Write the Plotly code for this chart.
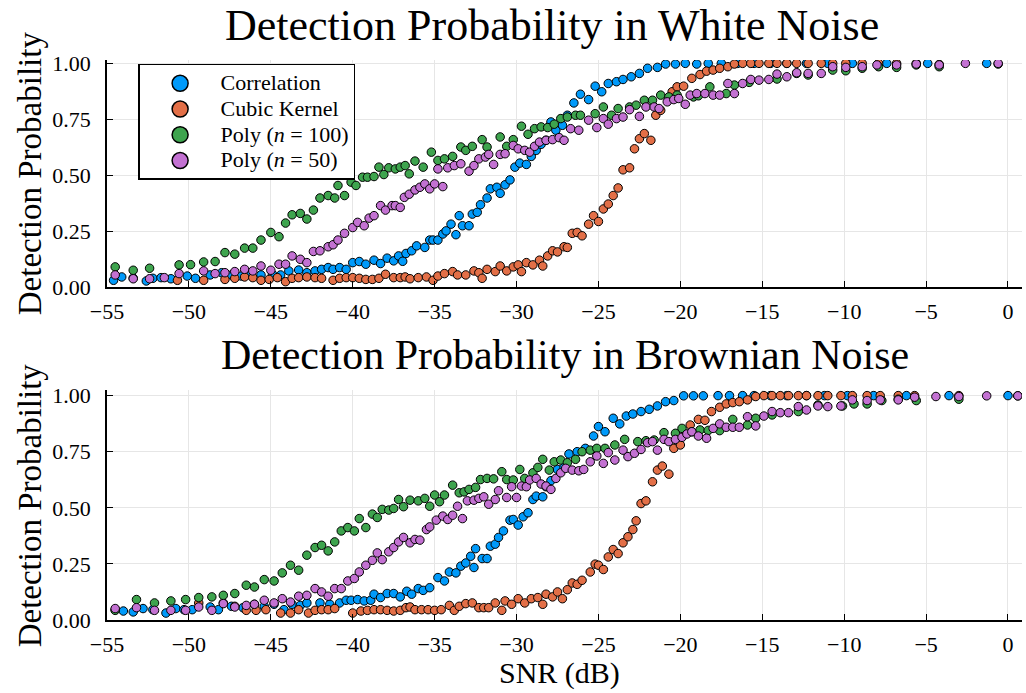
import plotly.graph_objects as go

# ---------------- data: White noise (top panel) ----------------
white_corr_x = [-54.6,-54.1,-53.4,-52.6,-52.2,-51.7,-51.1,-50.1,-49.6,-48.7,-48.0,-47.4,-46.8,-46.2,-45.6,-44.9,-44.4,-43.9,-43.3,-42.8,-42.3,-41.9,-41.5,-41.2,-40.8,-40.4,-40.0,-39.6,-39.2,-38.7,-38.3,-37.9,-37.5,-37.2,-36.95,-36.75,-36.4,-36.1,-35.6,-35.3,-35.1,-34.8,-34.5,-34.3,-34.0,-33.7,-33.5,-33.3,-32.9,-32.7,-32.4,-32.2,-31.8,-31.6,-31.2,-31.0,-30.7,-30.4,-30.1,-29.8,-29.4,-29.1,-28.8,-28.5,-28.2,-27.9,-27.6,-27.2,-26.9,-26.5,-26.1,-25.6,-25.2,-24.8,-24.4,-23.9,-23.5,-23.0,-22.5,-22.0,-21.4,-20.9,-20.3,-19.7,-19.0,-18.3,-17.5,-16.5,-15.5,-14.5,-13.5,-12.3,-11.0,-9.5,-7.4,-4.9,-1.3]
white_corr_y = [0.030,0.045,0.040,0.027,0.039,0.042,0.037,0.049,0.039,0.054,0.064,0.054,0.049,0.060,0.054,0.057,0.054,0.072,0.076,0.064,0.072,0.079,0.087,0.079,0.087,0.079,0.109,0.114,0.102,0.120,0.105,0.129,0.117,0.139,0.115,0.150,0.162,0.184,0.177,0.210,0.210,0.210,0.237,0.251,0.281,0.234,0.319,0.274,0.274,0.326,0.334,0.368,0.398,0.439,0.446,0.419,0.457,0.479,0.536,0.554,0.548,0.584,0.611,0.638,0.656,0.738,0.701,0.723,0.768,0.823,0.862,0.838,0.898,0.873,0.910,0.918,0.928,0.940,0.955,0.978,0.982,0.997,0.997,1.0,0.997,1.0,1.0,1.0,1.0,1.0,1.0,1.0,1.0,1.0,1.0,1.0,1.0]

white_cubic_x = [-50.7,-49.1,-47.8,-47.2,-46.6,-46.1,-45.6,-45.1,-44.6,-44.1,-43.7,-43.3,-42.8,-42.3,-41.9,-41.2,-40.8,-40.4,-40.0,-39.6,-39.2,-38.8,-38.4,-38.0,-37.5,-37.1,-36.8,-36.5,-36.0,-35.5,-35.1,-34.8,-34.4,-33.9,-33.6,-33.1,-32.6,-32.3,-32.1,-31.8,-31.3,-31.0,-30.6,-30.2,-29.9,-29.7,-29.4,-29.0,-28.6,-28.4,-28.1,-27.8,-27.5,-27.1,-26.9,-26.6,-26.3,-26.0,-25.6,-25.3,-25.0,-24.7,-24.4,-24.1,-23.8,-23.5,-23.1,-22.8,-22.5,-22.2,-21.8,-21.5,-21.2,-20.5,-20.2,-19.8,-19.3,-18.8,-18.4,-18.0,-17.6,-17.1,-16.7,-16.2,-15.7,-15.2,-14.6,-14.1,-13.5,-12.9,-12.2,-11.4,-10.7,-9.9,-8.9,-7.9,-6.8,-5.6,-4.2]
white_cubic_y = [0.030,0.030,0.034,0.039,0.045,0.042,0.030,0.034,0.042,0.024,0.039,0.042,0.045,0.042,0.039,0.030,0.039,0.042,0.042,0.039,0.034,0.034,0.039,0.057,0.042,0.042,0.045,0.037,0.042,0.045,0.030,0.049,0.060,0.069,0.054,0.054,0.072,0.064,0.039,0.079,0.069,0.094,0.072,0.090,0.099,0.069,0.109,0.099,0.120,0.094,0.139,0.162,0.157,0.180,0.177,0.240,0.244,0.229,0.281,0.319,0.293,0.349,0.371,0.409,0.443,0.524,0.533,0.618,0.663,0.686,0.656,0.768,0.790,0.873,0.895,0.898,0.933,0.950,0.965,0.970,0.978,0.985,0.997,1.0,1.0,1.0,1.0,1.0,1.0,1.0,1.0,1.0,1.0,1.0,1.0,1.0,1.0,1.0,0.995]

white_p100_x = [-54.5,-53.4,-52.4,-50.6,-49.9,-49.1,-48.4,-47.8,-47.2,-46.6,-46.1,-45.6,-45.0,-44.5,-44.1,-43.7,-43.2,-42.8,-42.4,-42.0,-41.5,-41.1,-40.9,-40.5,-40.1,-39.8,-39.4,-39.1,-38.7,-38.4,-38.1,-37.8,-37.4,-37.1,-36.8,-36.55,-36.2,-35.7,-35.2,-34.8,-34.4,-33.9,-33.4,-33.1,-32.7,-32.1,-31.8,-31.0,-30.6,-30.2,-29.7,-29.3,-28.9,-28.5,-28.1,-27.7,-27.3,-26.9,-26.4,-26.1,-25.2,-24.7,-24.2,-23.8,-23.1,-22.7,-22.2,-21.7,-21.2,-20.7,-20.2,-19.2,-18.9,-18.2,-17.2,-16.7,-15.8,-14.1,-12.9,-12.2,-10.7,-9.9,-8.9,-7.9,-6.8,-5.6,-4.2,-0.6]
white_p100_y = [0.090,0.075,0.084,0.099,0.100,0.112,0.114,0.154,0.147,0.174,0.174,0.210,0.244,0.225,0.286,0.323,0.329,0.304,0.344,0.398,0.409,0.398,0.454,0.409,0.469,0.454,0.491,0.491,0.494,0.536,0.503,0.533,0.528,0.536,0.543,0.506,0.563,0.536,0.603,0.566,0.573,0.584,0.626,0.611,0.629,0.659,0.626,0.671,0.629,0.659,0.719,0.683,0.708,0.716,0.713,0.728,0.753,0.760,0.768,0.768,0.775,0.805,0.768,0.798,0.805,0.813,0.835,0.835,0.858,0.850,0.858,0.850,0.855,0.895,0.865,0.903,0.915,0.930,0.955,0.948,0.970,0.967,0.978,0.985,0.982,0.993,0.985,0.997]

white_p50_x = [-54.5,-53.4,-52.4,-51.5,-50.6,-49.1,-48.4,-47.8,-47.2,-46.6,-46.1,-45.6,-45.0,-44.5,-44.1,-43.7,-43.2,-42.8,-42.4,-42.0,-41.5,-41.2,-40.9,-40.5,-40.0,-39.7,-39.3,-39.0,-38.7,-38.3,-38.0,-37.6,-37.4,-37.1,-36.85,-36.55,-36.2,-35.9,-35.6,-35.3,-35.0,-34.8,-34.5,-34.2,-33.8,-33.4,-32.9,-32.6,-32.3,-31.9,-31.7,-31.4,-31.0,-30.7,-30.2,-29.9,-29.5,-29.2,-28.9,-28.6,-28.2,-27.8,-27.4,-27.1,-26.7,-26.2,-25.6,-25.1,-24.7,-24.4,-23.9,-23.5,-23.1,-22.5,-22.1,-21.6,-21.3,-20.8,-20.4,-20.1,-19.7,-19.4,-19.0,-18.5,-18.0,-17.6,-17.1,-16.7,-16.2,-15.7,-15.2,-14.6,-14.1,-13.5,-12.9,-12.2,-11.4,-10.7,-9.9,-8.9,-8.0,-6.8,-5.6,-4.2,-2.6,-0.6]
white_p50_y = [0.054,0.037,0.037,0.042,0.060,0.072,0.060,0.064,0.069,0.079,0.072,0.094,0.075,0.102,0.102,0.139,0.124,0.109,0.159,0.162,0.180,0.189,0.210,0.240,0.266,0.289,0.274,0.308,0.319,0.364,0.344,0.364,0.364,0.356,0.401,0.415,0.434,0.446,0.461,0.439,0.461,0.528,0.449,0.533,0.543,0.551,0.518,0.543,0.573,0.581,0.593,0.548,0.593,0.596,0.633,0.618,0.611,0.603,0.629,0.648,0.656,0.659,0.668,0.656,0.708,0.701,0.746,0.713,0.753,0.728,0.753,0.760,0.793,0.763,0.805,0.805,0.798,0.828,0.838,0.843,0.817,0.858,0.865,0.865,0.858,0.858,0.910,0.865,0.910,0.928,0.925,0.928,0.952,0.940,0.958,0.955,0.955,0.985,0.982,0.985,0.993,0.993,0.997,0.993,1.0,1.0]

# ---------------- data: Brownian noise (bottom panel) ----------------
brown_corr_x = [-54.5,-54.0,-53.4,-52.8,-52.2,-51.4,-50.8,-50.3,-49.8,-48.7,-48.2,-47.4,-46.7,-46.0,-45.4,-44.8,-44.2,-43.7,-43.2,-42.8,-42.0,-41.4,-40.8,-40.4,-40.1,-39.7,-39.3,-38.9,-38.7,-38.3,-37.9,-37.5,-37.1,-36.7,-36.4,-36.0,-35.7,-35.3,-34.8,-34.4,-34.1,-33.7,-33.4,-33.1,-32.8,-32.6,-32.5,-32.1,-31.8,-31.6,-31.3,-31.1,-30.8,-30.4,-30.2,-29.9,-29.6,-29.3,-29.0,-28.8,-28.4,-28.2,-27.9,-27.5,-27.1,-26.8,-26.3,-25.8,-25.3,-25.0,-24.6,-24.1,-23.7,-23.3,-22.9,-22.4,-21.9,-21.4,-20.9,-20.4,-19.8,-19.2,-18.6,-17.7,-17.0,-16.2,-15.5,-14.5,-13.5,-12.3,-11.2,-9.8,-8.2,-6.2,-3.6,0.0]
brown_corr_y = [0.046,0.040,0.036,0.051,0.046,0.031,0.051,0.046,0.046,0.058,0.046,0.061,0.055,0.070,0.061,0.070,0.046,0.070,0.065,0.076,0.076,0.070,0.076,0.088,0.088,0.091,0.085,0.088,0.115,0.100,0.118,0.118,0.103,0.128,0.115,0.140,0.132,0.144,0.189,0.174,0.214,0.210,0.240,0.254,0.284,0.234,0.318,0.274,0.274,0.329,0.338,0.368,0.397,0.445,0.448,0.423,0.460,0.478,0.537,0.552,0.549,0.594,0.621,0.671,0.680,0.740,0.750,0.765,0.820,0.862,0.839,0.899,0.874,0.909,0.918,0.929,0.939,0.954,0.973,0.978,0.999,0.999,0.999,1.0,1.0,1.0,1.0,1.0,1.0,1.0,1.0,1.0,1.0,1.0,1.0,1.0]

brown_cubic_x = [-49.4,-47.9,-47.2,-46.5,-45.9,-45.3,-44.4,-43.8,-43.3,-42.7,-42.3,-41.9,-41.5,-41.1,-40.0,-39.5,-39.1,-38.7,-38.3,-37.9,-37.5,-37.1,-36.75,-36.5,-36.2,-35.8,-35.4,-35.0,-34.6,-34.1,-33.8,-33.5,-33.1,-32.7,-32.3,-32.0,-31.7,-31.3,-30.9,-30.7,-30.3,-29.9,-29.5,-29.1,-28.7,-28.4,-28.2,-27.8,-27.5,-27.2,-26.9,-26.6,-26.3,-26.0,-25.5,-25.2,-25.0,-24.7,-24.4,-24.1,-23.8,-23.5,-23.2,-22.9,-22.7,-22.4,-22.1,-21.7,-21.4,-21.1,-20.7,-20.4,-20.0,-19.4,-18.9,-18.5,-18.1,-17.6,-17.2,-16.8,-16.4,-15.9,-15.4,-14.9,-14.4,-13.9,-13.4,-12.8,-12.3,-11.6,-11.0,-10.2,-9.5,-8.6,-7.8,-6.7,-5.7,-3.0]
brown_cubic_y = [0.076,0.076,0.061,0.043,0.043,0.046,0.031,0.031,0.046,0.031,0.043,0.046,0.046,0.051,0.031,0.040,0.043,0.046,0.046,0.043,0.040,0.043,0.055,0.058,0.046,0.046,0.046,0.043,0.046,0.065,0.043,0.061,0.073,0.076,0.055,0.055,0.055,0.076,0.043,0.085,0.070,0.095,0.076,0.095,0.100,0.070,0.115,0.103,0.125,0.095,0.135,0.165,0.159,0.177,0.214,0.249,0.244,0.225,0.281,0.314,0.296,0.344,0.371,0.403,0.442,0.519,0.531,0.616,0.668,0.686,0.650,0.765,0.780,0.869,0.894,0.890,0.929,0.948,0.963,0.969,0.973,0.981,0.996,1.0,1.0,1.0,1.0,1.0,1.0,1.0,1.0,1.0,1.0,1.0,1.0,1.0,1.0,1.0]

brown_p100_x = [-54.5,-53.2,-52.1,-51.1,-50.2,-49.4,-48.6,-47.9,-47.2,-46.5,-46.0,-45.4,-44.8,-44.3,-43.8,-43.3,-42.8,-42.3,-41.9,-41.5,-41.1,-40.7,-40.3,-39.9,-39.6,-39.2,-38.8,-38.5,-38.2,-37.8,-37.5,-37.2,-36.9,-36.5,-36.0,-35.6,-35.3,-35.0,-34.7,-34.4,-33.9,-33.5,-33.2,-32.9,-32.5,-32.2,-31.8,-31.4,-30.9,-30.6,-30.2,-29.8,-29.5,-29.0,-28.7,-28.4,-28.0,-27.7,-27.3,-26.9,-26.4,-26.0,-25.5,-25.1,-24.6,-24.0,-23.4,-22.6,-22.1,-21.6,-21.0,-20.3,-19.9,-19.3,-18.8,-18.3,-17.6,-16.8,-15.9,-15.4,-14.4,-12.8,-11.6,-10.1,-9.4,-8.6,-7.7,-6.7,-5.6,-3.0,0.6]
brown_p100_y = [0.043,0.091,0.076,0.085,0.091,0.100,0.103,0.110,0.118,0.155,0.147,0.180,0.174,0.210,0.244,0.222,0.289,0.323,0.333,0.308,0.348,0.397,0.412,0.397,0.452,0.412,0.472,0.457,0.493,0.490,0.497,0.537,0.505,0.534,0.531,0.542,0.507,0.557,0.527,0.557,0.601,0.567,0.571,0.582,0.591,0.626,0.631,0.629,0.661,0.626,0.624,0.671,0.631,0.656,0.680,0.716,0.668,0.705,0.713,0.701,0.716,0.750,0.757,0.765,0.765,0.780,0.805,0.795,0.799,0.802,0.835,0.832,0.854,0.839,0.847,0.845,0.844,0.894,0.869,0.899,0.914,0.929,0.958,0.954,0.963,0.963,0.978,0.984,0.978,0.984,0.999]

brown_p50_x = [-54.5,-53.2,-52.1,-51.1,-50.2,-49.4,-48.6,-47.9,-47.2,-46.5,-46.0,-45.4,-44.8,-44.3,-43.8,-43.3,-42.8,-42.3,-41.9,-41.5,-41.1,-40.7,-40.3,-39.9,-39.6,-39.2,-38.8,-38.5,-38.2,-37.8,-37.5,-37.2,-36.9,-36.5,-36.2,-35.9,-35.5,-35.3,-34.9,-34.5,-34.2,-33.9,-33.6,-33.3,-33.0,-32.6,-32.3,-32.0,-31.7,-31.3,-31.1,-30.6,-30.3,-30.0,-29.7,-29.4,-29.2,-28.8,-28.5,-28.2,-27.9,-27.6,-27.3,-27.0,-26.6,-26.2,-25.9,-25.5,-25.1,-24.7,-24.4,-24.0,-23.5,-23.2,-22.8,-22.4,-22.0,-21.7,-21.4,-21.0,-20.7,-20.3,-19.9,-19.6,-19.3,-18.9,-18.4,-18.0,-17.6,-17.2,-16.8,-16.4,-15.9,-15.4,-14.9,-14.4,-13.9,-13.4,-12.8,-12.3,-11.6,-11.0,-10.2,-9.5,-8.6,-7.8,-6.7,-5.7,-4.4,-3.0,-1.3,0.6]
brown_p50_y = [0.051,0.055,0.043,0.043,0.043,0.058,0.043,0.073,0.058,0.065,0.070,0.088,0.076,0.095,0.080,0.106,0.110,0.140,0.125,0.106,0.140,0.140,0.174,0.185,0.214,0.244,0.266,0.299,0.269,0.304,0.323,0.348,0.368,0.344,0.359,0.356,0.403,0.415,0.445,0.463,0.448,0.467,0.507,0.452,0.531,0.534,0.542,0.549,0.516,0.537,0.576,0.546,0.594,0.546,0.597,0.594,0.624,0.631,0.606,0.597,0.582,0.631,0.656,0.676,0.668,0.665,0.671,0.705,0.731,0.698,0.746,0.713,0.757,0.728,0.743,0.760,0.790,0.795,0.757,0.805,0.795,0.805,0.814,0.829,0.839,0.820,0.810,0.854,0.874,0.859,0.859,0.859,0.906,0.865,0.909,0.929,0.924,0.924,0.951,0.936,0.954,0.951,0.954,0.981,0.978,0.981,0.981,0.993,0.996,0.996,0.999,0.999]

series_names = ["Correlation", "Cubic Kernel", "Poly (<i>n</i> = 100)", "Poly (<i>n</i> = 50)"]
series_colors = ["#009AFA", "#E36F47", "#3EA44E", "#C371D2"]
x_ticks = [-55, -50, -45, -40, -35, -30, -25, -20, -15, -10, -5, 0]
x_ticktext = [("\u2212" + str(-v)) if v < 0 else str(v) for v in x_ticks]
y_ticks = [0.0, 0.25, 0.5, 0.75, 1.0]
y_ticktext = ["0.00", "0.25", "0.50", "0.75", "1.00"]

FONT = "Liberation Serif"

top = [(white_corr_x, white_corr_y), (white_cubic_x, white_cubic_y),
       (white_p100_x, white_p100_y), (white_p50_x, white_p50_y)]
bot = [(brown_corr_x, brown_corr_y), (brown_cubic_x, brown_cubic_y),
       (brown_p100_x, brown_p100_y), (brown_p50_x, brown_p50_y)]

fig = go.Figure()
for i, (xs, ys) in enumerate(top):
    fig.add_trace(go.Scatter(x=xs, y=ys, mode="markers", name=series_names[i],
                             marker=dict(size=8.5, color=series_colors[i], line=dict(color="black", width=1)),
                             xaxis="x", yaxis="y", legendgroup=str(i), showlegend=False))
for i, (xs, ys) in enumerate(bot):
    fig.add_trace(go.Scatter(x=xs, y=ys, mode="markers", name=series_names[i],
                             marker=dict(size=8.5, color=series_colors[i], line=dict(color="black", width=1)),
                             xaxis="x2", yaxis="y2", legendgroup=str(i), showlegend=False))
# legend entries (larger symbols, as in the reference legend)
for i in range(4):
    fig.add_trace(go.Scatter(x=[None], y=[None], mode="markers",
                             name='<span style="font-size:22px">' + series_names[i] + '</span>',
                             marker=dict(size=16, color=series_colors[i], line=dict(color="black", width=1.5)),
                             xaxis="x", yaxis="y", legendgroup=str(i), showlegend=True))

xcommon = dict(range=[-55, 0.855], tickvals=x_ticks, ticktext=x_ticktext, showgrid=True,
               gridcolor="#e6e6e6", gridwidth=1, zeroline=False, showline=True, linecolor="black",
               linewidth=1.5, ticks="inside", ticklen=6, tickwidth=1.2, tickcolor="black",
               tickfont=dict(family=FONT, size=22, color="black"), ticklabelstandoff=4)
ycommon = dict(tickvals=y_ticks, ticktext=y_ticktext, showgrid=True, gridcolor="#e6e6e6", gridwidth=1,
               zeroline=False, showline=True, linecolor="black", linewidth=1.5, ticks="inside",
               ticklen=6, tickwidth=1.2, tickcolor="black",
               tickfont=dict(family=FONT, size=22, color="black"), ticklabelstandoff=10)

fig.update_layout(
    width=1026, height=693,
    margin=dict(l=107, r=4, t=60, b=73),
    paper_bgcolor="white", plot_bgcolor="white",
    font=dict(family=FONT, color="black"),
    xaxis=dict(domain=[0, 1], anchor="y", **xcommon),
    yaxis=dict(domain=[0.5946, 1.0], anchor="x", range=[0, 1.015], **ycommon),
    xaxis2=dict(domain=[0, 1], anchor="y2", **xcommon),
    yaxis2=dict(domain=[0.0, 0.4107], anchor="x2", range=[0, 1.025], **ycommon),
    legend=dict(x=0.034, y=0.993, xanchor="left", yanchor="top", bgcolor="white",
                bordercolor="black", borderwidth=1.5, font=dict(family=FONT, size=17.5, color="black"),
                itemwidth=71, tracegroupgap=0),
    showlegend=True,
    annotations=[
        dict(text="Detection Probability in White Noise", xref="paper", yref="paper", x=0.486, y=1.0625,
             xanchor="center", yanchor="middle", showarrow=False, font=dict(family=FONT, size=44)),
        dict(text="Detection Probability in Brownian Noise", xref="paper", yref="paper", x=0.5, y=0.473,
             xanchor="center", yanchor="middle", showarrow=False, font=dict(family=FONT, size=42)),
        dict(text="Detection Probability", xref="paper", yref="paper", x=-0.084, y=0.798,
             xanchor="center", yanchor="middle", textangle=-90, showarrow=False, font=dict(family=FONT, size=33)),
        dict(text="Detection Probability", xref="paper", yref="paper", x=-0.084, y=0.205,
             xanchor="center", yanchor="middle", textangle=-90, showarrow=False, font=dict(family=FONT, size=33)),
        dict(text="SNR (dB)", xref="paper", yref="paper", x=0.495, y=-0.095,
             xanchor="center", yanchor="middle", showarrow=False, font=dict(family=FONT, size=30)),
    ],
)

# remove the browser's default 8px page margin so the 1026x693 figure fills the window exactly
fig.write_html("out.html", config={"displayModeBar": False},
               post_script="document.body.style.margin='0';")
